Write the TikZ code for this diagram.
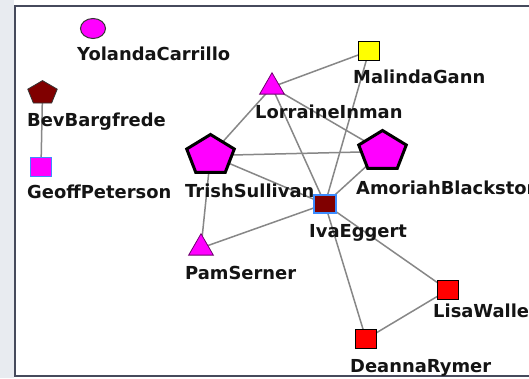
\documentclass[tikz,border=0pt]{standalone}
\usepackage{fontspec}
\setmainfont{DejaVu Sans}
\usetikzlibrary{shapes.geometric}
\pgfdeclarelayer{background}
\pgfsetlayers{background,main}

\definecolor{nodemag}{RGB}{255,0,255}
\definecolor{nodemaroon}{RGB}{128,0,0}
\definecolor{nodeyellow}{RGB}{255,255,0}
\definecolor{nodered}{RGB}{255,0,0}
\definecolor{selblue}{RGB}{60,140,255}
\definecolor{tridark}{RGB}{110,0,110}
\definecolor{edgegray}{RGB}{135,135,135}
\definecolor{framegray}{RGB}{70,74,92}
\definecolor{sidegray}{RGB}{232,235,240}
\definecolor{labelink}{RGB}{20,20,20}

\tikzset{
  link/.style={draw=edgegray, line width=1.5pt},
  lbl/.style={anchor=base west, inner sep=0pt, text=labelink,
    font=\fontsize{17.9}{18}\selectfont\bfseries},
  bigpent/.style={regular polygon, regular polygon sides=5, inner sep=0pt,
    minimum size=50pt, fill=nodemag, draw=black, line width=3pt, transform shape},
  smallpent/.style={regular polygon, regular polygon sides=5, inner sep=0pt,
    minimum size=31pt, fill=nodemaroon, draw=black!80, line width=0.8pt, transform shape},
  tri/.style={regular polygon, regular polygon sides=3, inner sep=0pt,
    minimum size=28.5pt, fill=nodemag, draw=tridark, line width=0.8pt},
  sq/.style={rectangle, inner sep=0pt, minimum width=21pt, minimum height=19pt,
    draw=black, line width=1pt},
  selsq/.style={sq, draw=selblue, line width=1.5pt},
  dot/.style={ellipse, inner sep=0pt, minimum width=25pt, minimum height=20pt,
    fill=nodemag, draw=black!80, line width=1pt}
}

\begin{document}
\begin{tikzpicture}[x=1pt,y=-1pt]
\useasboundingbox (0,0) rectangle (529,378);

% nodes
\node[dot] (yolanda) at (93,28.5) {};
\begin{scope}[shift={(42.5,93)},yscale=0.8]
  \node[smallpent] (bev) {};
\end{scope}
\node[selsq, fill=nodemag] (geoff) at (41,167) {};
\begin{scope}[shift={(210.5,155.5)},yscale=0.84]
  \node[bigpent] (trish) {};
\end{scope}
\begin{scope}[shift={(382.5,151.5)},yscale=0.84]
  \node[bigpent] (amoriah) {};
\end{scope}
\node[tri] (lorraine) at (272,87) {};
\node[tri] (pam) at (201,248) {};
\node[sq, fill=nodeyellow] (malinda) at (369,51) {};
\node[selsq, fill=nodemaroon, minimum width=22pt, minimum height=18pt] (iva) at (325,204) {};
\node[sq, fill=nodered] (lisa) at (448,290) {};
\node[sq, fill=nodered] (deanna) at (366,339) {};

% labels
\node[lbl] (yolandaL) at (77,60) {YolandaCarrillo};
\node[lbl] (bevL) at (27,126) {BevBargfrede};
\node[lbl] (geoffL) at (27,198) {GeoffPeterson};
\node[lbl] (trishL) at (185,197) {TrishSullivan};
\node[lbl] (lorraineL) at (255,118) {LorraineInman};
\node[lbl] (malindaL) at (353,83) {MalindaGann};
\node[lbl] (amoriahL) at (356,194.5) {AmoriahBlackstone};
\node[lbl] (ivaL) at (309,237) {IvaEggert};
\node[lbl] (pamL) at (185,279) {PamSerner};
\node[lbl] (lisaL) at (433,317) {LisaWaller};
\node[lbl] (deannaL) at (350,372) {DeannaRymer};

\begin{pgfonlayer}{background}
  % page, side strip and frame
  \fill[white] (0,0) rectangle (529,378);
  \fill[sidegray] (0,0) rectangle (14,378);
  \draw[framegray, line width=2.5pt] (529,6) -- (15,6) -- (15,376) -- (529,376);
  % connectors
  \draw[link] (bev.center) -- (geoff.center);
  \draw[link] (trish.center) -- (lorraine.center);
  \draw[link] (trish.center) -- (amoriah.center);
  \draw[link] (trish.center) -- (iva.center);
  \draw[link] (trish.center) -- (pam.center);
  \draw[link] (lorraine.center) -- (malinda.center);
  \draw[link] (lorraine.center) -- (amoriah.center);
  \draw[link] (lorraine.center) -- (iva.center);
  \draw[link] (malinda.center) -- (iva.center);
  \draw[link] (amoriah.center) -- (iva.center);
  \draw[link] (pam.center) -- (iva.center);
  \draw[link] (iva.center) -- (lisa.center);
  \draw[link] (iva.center) -- (deanna.center);
  \draw[link] (lisa.center) -- (deanna.center);
\end{pgfonlayer}
\end{tikzpicture}
\end{document}
